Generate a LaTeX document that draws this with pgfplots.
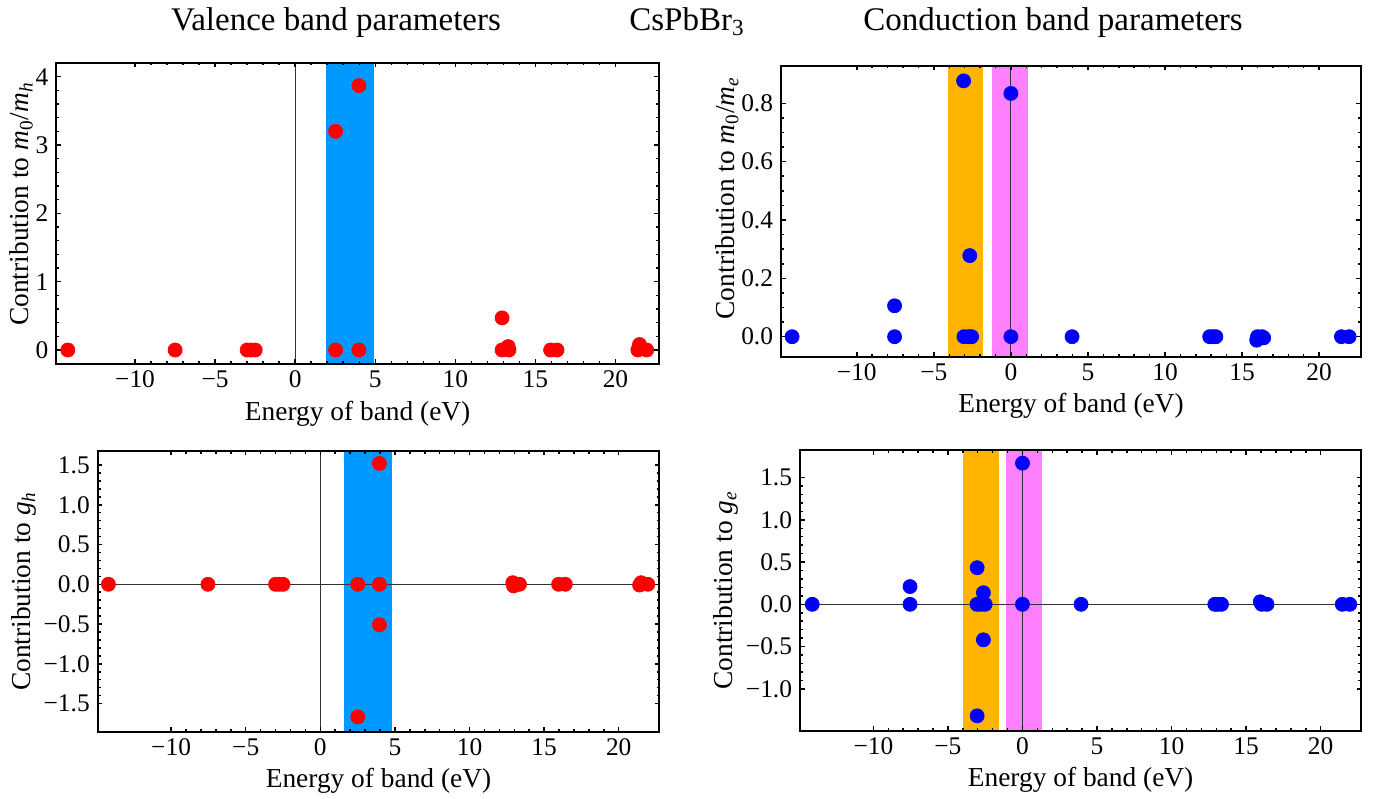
\documentclass[border=0pt]{standalone}
\usepackage{fontspec}
\setmainfont{Liberation Serif}
\usepackage{pgfplots}
\pgfplotsset{compat=1.18}

\definecolor{vband}{RGB}{0,153,255}
\definecolor{oband}{RGB}{255,180,0}
\definecolor{mband}{RGB}{255,128,255}

\newcommand{\labfont}{\fontsize{13.7}{16}\selectfont}

\pgfplotsset{
  bandplot/.style={
    scale only axis,
    anchor=south west,
    xmin=-14.92, xmax=22.72,
    xtick={-10,-5,0,5,10,15,20},
    xticklabels={−10,−5,0,5,10,15,20},
    minor x tick num=4,
    tick align=inside,
    major tick length=2.3pt,
    minor tick length=1.4pt,
    tick style={black, line width=0.75pt},
    axis line style={line width=0.85pt},
    tick label style={font=\fontsize{12.7}{14}\selectfont},
    xticklabel style={anchor=base, yshift=-11.7pt, inner sep=0pt},
    yticklabel style={anchor=east, xshift=-3.8pt, inner sep=0pt},
    every axis x label/.style={at={(rel axis cs:0.5,0)}, yshift=-28pt, anchor=base, font=\labfont},
    xlabel={Energy of band (eV)},
    axis on top,
  },
  dots/.style={only marks, mark=*, mark size=3.5pt, mark options={fill=#1, draw=#1}},
  zeroline/.style={black!80, line width=0.5pt},
}

\begin{document}
\begin{tikzpicture}
\useasboundingbox (0,0) rectangle (690pt,-399pt);

\node[anchor=base, font=\fontsize{16.5}{20}\selectfont] at (168pt,-15pt) {Valence band parameters};
\node[anchor=base, font=\fontsize{16.5}{20}\selectfont] at (343.5pt,-15pt) {CsPbBr\textsubscript{3}};
\node[anchor=base, font=\fontsize{16.5}{20}\selectfont] at (526.5pt,-15pt) {Conduction band parameters};

% top left: valence, m0/mh
\begin{axis}[bandplot,
  at={(28.15pt,-182pt)}, width=301.35pt, height=150.65pt,
  ymin=-0.205, ymax=4.205,
  ytick={0,1,2,3,4}, yticklabels={0,1,2,3,4},
  minor y tick num=4,
  every axis y label/.style={at={(rel axis cs:0,0.531)}, xshift=-14pt, rotate=90, anchor=base, font=\labfont},
  ylabel={Contribution to \textit{m}\textsubscript{0}/\textit{m}\textsubscript{\textit{h}}},
]
  \fill[vband] (axis cs:1.93,-0.205) rectangle (axis cs:4.9,4.205);
  \addplot[zeroline] coordinates {(0,-0.205)(0,4.205)};
  \addplot[dots=red] coordinates {
    (-14.2,0) (-7.5,0) (-3.0,0) (-2.75,0) (-2.5,0)
    (2.52,3.2) (2.52,0) (3.98,3.87) (3.98,0)
    (12.92,0.47) (12.92,0) (13.1,0.01) (13.3,0.05) (13.35,0)
    (15.95,0) (16.35,0)
    (21.4,0) (21.5,0.08) (21.6,0.02) (21.95,0)
  };
\end{axis}

% top right: conduction, m0/me
\begin{axis}[bandplot,
  at={(390.5pt,-178.35pt)}, width=290pt, height=145.5pt,
  ymin=-0.0686, ymax=0.929,
  ytick={0,0.2,0.4,0.6,0.8}, yticklabels={0.0,0.2,0.4,0.6,0.8},
  minor y tick num=3,
  every axis y label/.style={at={(rel axis cs:0,0.545)}, xshift=-23.5pt, rotate=90, anchor=base, font=\labfont},
  ylabel={Contribution to \textit{m}\textsubscript{0}/\textit{m}\textsubscript{\textit{e}}},
]
  \fill[oband] (axis cs:-4.1,-0.0686) rectangle (axis cs:-1.78,0.929);
  \fill[mband] (axis cs:-1.24,-0.0686) rectangle (axis cs:1.09,0.929);
  \addplot[dots=blue] coordinates {
    (-14.2,0) (-7.55,0.106) (-7.55,0)
    (-3.07,0.877) (-3.05,0) (-2.67,0.278) (-2.75,0) (-2.55,0)
    (0,0.834) (0,0) (3.97,0)
    (12.9,0) (13.1,0) (13.3,0)
    (15.95,-0.012) (16.0,0) (16.3,0) (16.4,-0.004)
    (21.45,0) (21.95,0)
  };
  \addplot[zeroline] coordinates {(0,-0.0686)(0,0.929)};
\end{axis}

% bottom left: valence, g_h
\begin{axis}[bandplot,
  at={(48.85pt,-365.85pt)}, width=280.8pt, height=140.5pt,
  ymin=-1.854, ymax=1.68,
  ytick={-1.5,-1,-0.5,0,0.5,1,1.5}, yticklabels={−1.5,−1.0,−0.5,0.0,0.5,1.0,1.5},
  minor y tick num=4,
  every axis y label/.style={at={(rel axis cs:0,0.5)}, xshift=-33.5pt, rotate=90, anchor=base, font=\labfont},
  ylabel={Contribution to \textit{g}\textsubscript{\textit{h}}},
]
  \fill[vband] (axis cs:1.6,-1.854) rectangle (axis cs:4.78,1.68);
  \addplot[dots=red] coordinates {
    (-14.2,0) (-7.53,0) (-3.0,0) (-2.75,0) (-2.5,0)
    (2.51,0) (2.51,-1.667) (3.96,1.52) (3.96,0) (3.96,-0.51)
    (12.9,0.02) (12.95,-0.02) (13.15,0) (13.35,0)
    (15.97,0) (16.42,0)
    (21.4,-0.01) (21.5,0.02) (21.95,0)
  };
  \addplot[zeroline] coordinates {(0,-1.854)(0,1.68)};
  \addplot[zeroline] coordinates {(-14.92,0)(22.72,0)};
\end{axis}

% bottom right: conduction, g_e
\begin{axis}[bandplot,
  at={(400pt,-365.35pt)}, width=280.6pt, height=140.35pt,
  ymin=-1.496, ymax=1.826,
  ytick={-1,-0.5,0,0.5,1,1.5}, yticklabels={−1.0,−0.5,0.0,0.5,1.0,1.5},
  minor y tick num=4,
  every axis y label/.style={at={(rel axis cs:0,0.5)}, xshift=-34pt, rotate=90, anchor=base, font=\labfont},
  ylabel={Contribution to \textit{g}\textsubscript{\textit{e}}},
]
  \fill[oband] (axis cs:-3.99,-1.496) rectangle (axis cs:-1.56,1.826);
  \fill[mband] (axis cs:-1.09,-1.496) rectangle (axis cs:1.3,1.826);
  \addplot[dots=blue] coordinates {
    (-14.1,0) (-7.54,0.21) (-7.54,0)
    (-3.04,0.433) (-3.05,0) (-3.04,-1.32)
    (-2.62,0.137) (-2.62,-0.42) (-2.8,0) (-2.5,0)
    (0,1.67) (0,0) (3.93,0)
    (12.9,0) (13.1,0) (13.35,0)
    (15.95,0.03) (16.05,0) (16.4,0)
    (21.45,0) (21.95,0)
  };
  \addplot[zeroline] coordinates {(0,-1.496)(0,1.826)};
  \addplot[zeroline] coordinates {(-14.92,0)(22.72,0)};
\end{axis}
\end{tikzpicture}
\end{document}
